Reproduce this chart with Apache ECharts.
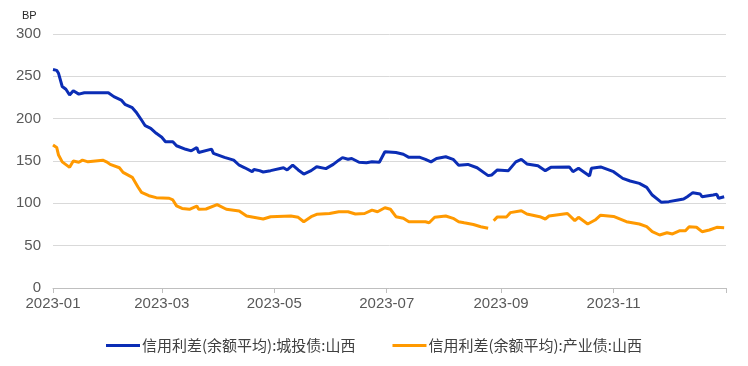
<!DOCTYPE html>
<html>
<head>
<meta charset="utf-8">
<script src="https://cdn.jsdelivr.net/npm/echarts@6/dist/echarts.min.js"></script>
<style>html,body{margin:0;padding:0;background:#fff}#c{width:748px;height:366px}</style>
</head>
<body>
<div id="c"></div>
<script>
const seriesNames = ['信用利差(余额平均):城投债:山西', '信用利差(余额平均):产业债:山西'];
const yTicks = [0, 50, 100, 150, 200, 250, 300];
const xTickLabels = ['2023-01', '2023-03', '2023-05', '2023-07', '2023-09', '2023-11'];

const blueDates = ['2023-01-01','2023-01-03','2023-01-04','2023-01-06','2023-01-08','2023-01-10','2023-01-12','2023-01-15','2023-01-18','2023-01-31',
'2023-02-03','2023-02-07','2023-02-09','2023-02-13','2023-02-15','2023-02-18','2023-02-20','2023-02-23','2023-02-26','2023-03-01',
'2023-03-03','2023-03-07','2023-03-09','2023-03-14','2023-03-17','2023-03-20','2023-03-21','2023-03-28','2023-03-29','2023-04-04',
'2023-04-09','2023-04-12','2023-04-15','2023-04-19','2023-04-20','2023-04-23','2023-04-25','2023-04-29','2023-05-06','2023-05-08',
'2023-05-11','2023-05-14','2023-05-17','2023-05-21','2023-05-24','2023-05-29','2023-06-02','2023-06-05','2023-06-07','2023-06-10',
'2023-06-12','2023-06-16','2023-06-20','2023-06-23','2023-06-27','2023-06-28','2023-06-30','2023-07-06','2023-07-10','2023-07-13',
'2023-07-19','2023-07-22','2023-07-25','2023-07-28','2023-08-02','2023-08-06','2023-08-09','2023-08-14','2023-08-19','2023-08-25',
'2023-08-27','2023-08-30','2023-09-05','2023-09-09','2023-09-12','2023-09-15','2023-09-21','2023-09-25','2023-09-28','2023-10-08',
'2023-10-10','2023-10-13','2023-10-19','2023-10-20','2023-10-25','2023-11-01','2023-11-06','2023-11-10','2023-11-15','2023-11-19',
'2023-11-22','2023-11-27','2023-12-01','2023-12-06','2023-12-09','2023-12-11','2023-12-14','2023-12-18','2023-12-19','2023-12-25',
'2023-12-27','2023-12-28','2023-12-31'];
const blueValues = [258,257,253.6,238,234.7,228,233,229,230.7,230.7,
226,222,217,213,208,198.4,191.7,188.6,182.7,178,
172.8,172.8,168,163.8,162,166,160,164,159,154.3,
151,145,142,137.4,140,138.6,137,138.6,142,139.4,
145,139.4,134.6,138.6,143.3,141,146,151,154,152,
153,148.5,148,149,148.5,149,161,160,158,154.3,
154.3,152,149,153,155,152,145,146,142,132.7,
133.5,139.4,138.6,149,152,146.5,144.5,138.6,142.5,143,
137.4,141.4,132.3,141.4,143,137.4,129.5,126.4,123.6,118.9,
109.8,101.2,102,104,105,107.8,112.6,111,107.8,109.8,
110.7,106,107.8];

const orangeDates = ['2023-01-01','2023-01-03','2023-01-04','2023-01-06','2023-01-10','2023-01-12','2023-01-15','2023-01-17','2023-01-20','2023-01-28',
'2023-01-30','2023-02-01','2023-02-06','2023-02-08','2023-02-13','2023-02-16','2023-02-18','2023-02-22','2023-02-26','2023-03-05',
'2023-03-07','2023-03-09','2023-03-12','2023-03-16','2023-03-20','2023-03-21','2023-03-25','2023-03-31','2023-04-05','2023-04-12',
'2023-04-16','2023-04-25','2023-04-29','2023-05-10','2023-05-11','2023-05-14','2023-05-17','2023-05-21','2023-05-24','2023-05-31',
'2023-06-05','2023-06-10','2023-06-14','2023-06-19','2023-06-23','2023-06-26','2023-06-30','2023-07-03','2023-07-06','2023-07-10',
'2023-07-13','2023-07-22','2023-07-24','2023-07-27','2023-08-02','2023-08-06','2023-08-09','2023-08-12','2023-08-17','2023-08-21',
'2023-08-25','2023-08-26','2023-08-28','2023-08-30','2023-09-04','2023-09-06','2023-09-12','2023-09-15','2023-09-22','2023-09-25',
'2023-09-27','2023-10-07','2023-10-11','2023-10-13','2023-10-18','2023-10-22','2023-10-25','2023-11-01','2023-11-08','2023-11-15',
'2023-11-19','2023-11-22','2023-11-26','2023-11-30','2023-12-03','2023-12-07','2023-12-10','2023-12-12','2023-12-16','2023-12-19',
'2023-12-23','2023-12-27','2023-12-31'];
const orangeValues = [169,166,157,149,142.5,150,148.5,151,149,151,
149,146,142,136.6,130.7,119.6,113,109,106.7,106,
104,97,94,93,96.8,93,93.3,98.5,93,91,
85,81.5,84.2,85,87,83.5,78.3,84.2,87,88,
90,90,87.4,88,92,90,94.8,93,84.2,82.3,
78.3,78.3,77,83.5,85,82.3,78.3,77,75,72.4,
70.5,null,79.5,84,84,89,91.3,87.4,84.2,81.5,
85,88,79.5,83.5,75.6,80.3,86,84.5,78.3,75.6,
72.4,66.5,62.6,65.3,63.8,67.7,67.7,72.4,71.7,66.5,
68.5,71.7,71.2];

function ts(s){ const p = s.split('-').map(Number); return Date.UTC(p[0], p[1]-1, p[2] || 1); }
function pad(n){ return (n < 10 ? '0' : '') + n; }
const xMin = ts('2023-01-01');
const xMax = ts('2024-01-01');
const labelValues = xTickLabels.map(ts);
const tickValues = labelValues.concat([xMax]);

const blueData = blueDates.map((d, i) => [ts(d), blueValues[i]]);
const orangeData = orangeDates.map((d, i) => [ts(d), orangeValues[i] == null ? '-' : orangeValues[i]]);

const FONT = "'Liberation Sans', Arial, 'Noto Sans CJK SC', sans-serif";
const chart = echarts.init(document.getElementById('c'), null, {renderer: 'canvas'});
chart.setOption({
  animation: false,
  backgroundColor: '#ffffff',
  textStyle: {fontFamily: FONT},
  graphic: [{
    type: 'text', left: 22, top: 10,
    style: {text: 'BP', fontSize: 11, fill: '#262626', fontFamily: FONT}
  }],
  grid: {left: 53, right: 22, top: 34, bottom: 78, containLabel: false},
  legend: {
    left: 106, top: 338, padding: 0,
    itemWidth: 34, itemHeight: 3, itemGap: 37,
    icon: 'rect',
    textStyle: {fontSize: 15, color: '#404040', fontFamily: "'Noto Sans CJK SC', sans-serif", padding: [0, 0, 0, -3]},
    data: seriesNames
  },
  xAxis: {
    type: 'value', min: xMin, max: xMax,
    axisLine: {show: true, lineStyle: {color: '#BFBFBF', width: 1}},
    axisTick: {show: true, length: 5, lineStyle: {color: '#BFBFBF'}, customValues: tickValues},
    axisLabel: {
      customValues: labelValues,
      fontSize: 15, color: '#595959', margin: 8, fontFamily: FONT,
      formatter: function (v) { const d = new Date(v); return d.getUTCFullYear() + '-' + pad(d.getUTCMonth() + 1); }
    },
    splitLine: {show: false}
  },
  yAxis: {
    type: 'value', min: yTicks[0], max: yTicks[yTicks.length - 1], interval: 50,
    axisLine: {show: false}, axisTick: {show: false},
    axisLabel: {fontSize: 15, color: '#595959', margin: 12, fontFamily: FONT},
    splitLine: {show: true, lineStyle: {color: '#D9D9D9', width: 1}}
  },
  series: [
    {name: seriesNames[0], type: 'line', data: blueData, showSymbol: false, symbol: 'none',
     lineStyle: {width: 3, color: '#0B2DB5'}, itemStyle: {color: '#0B2DB5'}, connectNulls: false},
    {name: seriesNames[1], type: 'line', data: orangeData, showSymbol: false, symbol: 'none',
     lineStyle: {width: 3, color: '#FF9900'}, itemStyle: {color: '#FF9900'}, connectNulls: false}
  ]
});
</script>
</body>
</html>
